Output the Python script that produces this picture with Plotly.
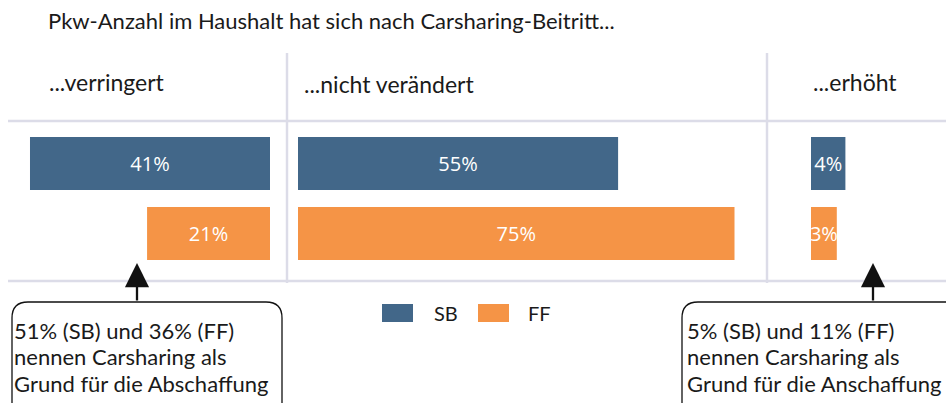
import plotly.graph_objects as go

W, H = 946, 403

# ---- data ----
title = "Pkw-Anzahl im Haushalt hat sich nach Carsharing-Beitritt..."
categories = ["...verringert", "...nicht verändert", "...erhöht"]
series = ["SB", "FF"]
sb_values = [41, 55, 4]
ff_values = [21, 75, 3]
box_left = ["51% (SB) und 36% (FF)", "nennen Carsharing als", "Grund für die Abschaffung"]
box_right = ["5% (SB) und 11% (FF)", "nennen Carsharing als", "Grund für die Anschaffung"]

SB_COLOR = "#426789"
FF_COLOR = "#f59446"
LINE_COLOR = "#dcdce8"
FONT = "Lato"
BAR_FONT = "Open Sans"


def X(px):
    return px / W


def Y(py):
    return 1 - py / H


fig = go.Figure()
axes = ["x", "x2", "x3"]
colors = [SB_COLOR, FF_COLOR]
values = [sb_values, ff_values]
for si, s in enumerate(series):
    for ci in range(len(categories)):
        v = values[si][ci]
        fig.add_trace(go.Bar(
            x=[v], y=[s], orientation="h", xaxis=axes[ci], yaxis="y",
            marker=dict(color=colors[si], line=dict(width=0)),
            width=0.757, text=[f"{v}%"], textposition="inside",
            insidetextanchor="middle", constraintext="none", textangle=0,
            textfont=dict(color="white", size=20, family=BAR_FONT),
            name=s, showlegend=False, hoverinfo="skip", cliponaxis=False,
        ))

noax = dict(showgrid=False, zeroline=False, showticklabels=False, showline=False, ticks="", fixedrange=True)
fig.update_layout(
    width=W, height=H, margin=dict(l=0, r=0, t=0, b=0),
    paper_bgcolor="white", plot_bgcolor="rgba(0,0,0,0)",
    showlegend=False, barmode="overlay",
    xaxis=dict(domain=[X(10), X(270)], range=[260 / 5.854, 0], anchor="y", **noax),
    xaxis2=dict(domain=[X(298), X(760)], range=[0, 462 / 5.82], anchor="y", **noax),
    xaxis3=dict(domain=[X(811), X(946)], range=[0, 135 / 8.6], anchor="y", **noax),
    yaxis=dict(domain=[Y(281), Y(121)], type="category", categoryarray=series,
               range=[1.679, -0.607], **noax),
    font=dict(family=FONT, color="#1a1a1a"),
)

shapes = []
# grid lines
for py in (121, 281):
    shapes.append(dict(type="line", xref="paper", yref="paper", x0=X(8), x1=X(946), y0=Y(py), y1=Y(py),
                       line=dict(color=LINE_COLOR, width=2.5)))
for px in (287, 767):
    shapes.append(dict(type="line", xref="paper", yref="paper", x0=X(px), x1=X(px), y0=Y(53), y1=Y(283),
                       line=dict(color=LINE_COLOR, width=2.5)))


def rounded_box(x0, y0, x1, y1, r):
    p = (f"M {X(x0)},{Y(y1)} L {X(x0)},{Y(y0 + r)} Q {X(x0)},{Y(y0)} {X(x0 + r)},{Y(y0)} "
         f"L {X(x1 - r)},{Y(y0)} Q {X(x1)},{Y(y0)} {X(x1)},{Y(y0 + r)} L {X(x1)},{Y(y1)}")
    return dict(type="path", xref="paper", yref="paper", path=p, line=dict(color="#111111", width=1.3))


shapes.append(rounded_box(12, 302, 282, 440, 16))
shapes.append(rounded_box(682, 302, 962, 440, 16))

# legend boxes
shapes.append(dict(type="rect", xref="paper", yref="paper", x0=X(382), x1=X(413), y0=Y(322), y1=Y(304),
                   fillcolor=SB_COLOR, line=dict(width=0)))
shapes.append(dict(type="rect", xref="paper", yref="paper", x0=X(478), x1=X(509), y0=Y(322), y1=Y(304),
                   fillcolor=FF_COLOR, line=dict(width=0)))
fig.update_layout(shapes=shapes)

ann = []
ann.append(dict(text=title, x=X(46), y=Y(20), xref="paper", yref="paper", xanchor="left", yanchor="middle",
                showarrow=False, font=dict(size=22, family=FONT)))
hdr_pos = [(47, 82), (302, 84), (811, 82)]
for c, (px, py) in zip(categories, hdr_pos):
    ann.append(dict(text=c, x=X(px), y=Y(py), xref="paper", yref="paper", xanchor="left", yanchor="middle",
                    showarrow=False, font=dict(size=23, family=FONT)))
ann.append(dict(text=series[0], x=X(432), y=Y(313), xref="paper", yref="paper", xanchor="left", yanchor="middle",
                showarrow=False, font=dict(size=20, family=FONT)))
ann.append(dict(text=series[1], x=X(526), y=Y(313), xref="paper", yref="paper", xanchor="left", yanchor="middle",
                showarrow=False, font=dict(size=20, family=FONT)))
line_centers = [330, 356.5, 383]
for lines, px in ((box_left, 12), (box_right, 685)):
    for txt, py in zip(lines, line_centers):
        ann.append(dict(text=txt, x=X(px), y=Y(py), xref="paper", yref="paper",
                        xanchor="left", yanchor="middle", align="left", showarrow=False,
                        font=dict(size=22, family=FONT)))
# arrows
for px in (137, 873):
    ann.append(dict(text="", x=X(px), y=Y(263), xref="paper", yref="paper", showarrow=True,
                    ax=0, ay=39, arrowhead=2, arrowsize=2.1, arrowwidth=2.3, arrowcolor="#111111"))
fig.update_layout(annotations=ann)

fig.write_html("out.html", config={"displayModeBar": False, "staticPlot": True},
               post_script="document.body.style.margin='0';document.body.style.overflow='hidden';")
